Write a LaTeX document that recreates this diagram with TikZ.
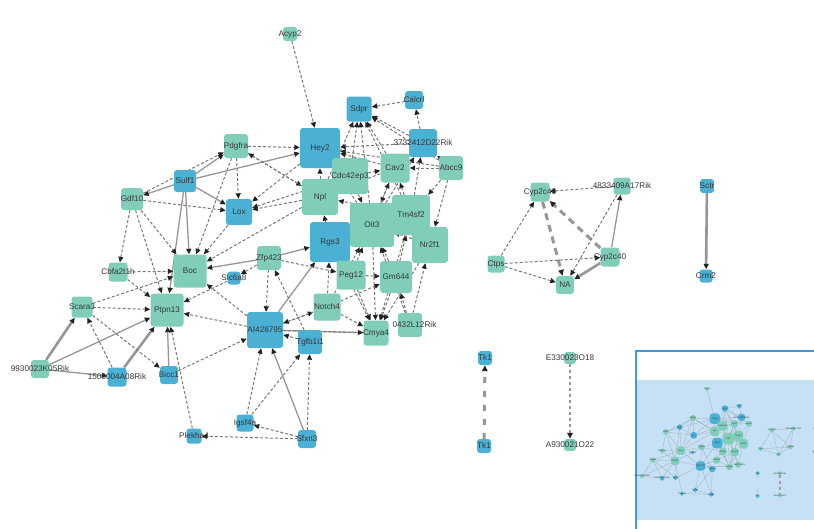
\documentclass[tikz,border=0pt]{standalone}
\usepackage{fontspec}
\setmainfont{Liberation Sans}
\usepackage{xcolor}
\definecolor{geneblue}{RGB}{74,176,212}
\definecolor{genegreen}{RGB}{128,206,186}
\definecolor{edgegray}{RGB}{120,120,120}
\definecolor{solidgray}{RGB}{150,150,150}
\definecolor{tipgray}{RGB}{35,35,35}
\definecolor{labelgray}{RGB}{55,55,55}
\definecolor{navframe}{RGB}{60,155,232}
\definecolor{navbg}{RGB}{198,225,245}
\usepackage{tikz}
\usetikzlibrary{arrows.meta,backgrounds}

\newcommand{\lbl}[1]{\makebox[0pt]{#1}}

% the whole network, drawn once in the view and once in the navigator
\newcommand{\genenet}{%
\node[ggreen, minimum size=14pt] (acyp2) at (290,34) {\lbl{Acyp2}};
\node[gblue, minimum size=40pt] (hey2) at (320,148) {\lbl{Hey2}};
\node[gblue, minimum size=25pt] (sdpr) at (359,109) {\lbl{Sdpr}};
\node[gblue, minimum size=18pt] (calcrl) at (414,100) {\lbl{Calcrl}};
\node[gblue, minimum size=28pt] (rik3732) at (423,143) {\lbl{3732412D22Rik}};
\node[ggreen, minimum size=36pt] (cdc) at (350,176) {\lbl{Cdc42ep3}};
\node[ggreen, minimum size=36pt] (npl) at (320,197) {\lbl{Npl}};
\node[ggreen, minimum size=29pt] (cav2) at (395,168) {\lbl{Cav2}};
\node[ggreen, minimum size=24pt] (abcc9) at (451,168) {\lbl{Abcc9}};
\node[ggreen, minimum size=44pt] (oit3) at (372,225) {\lbl{Oit3}};
\node[ggreen, minimum width=38pt, minimum height=40pt] (tm4sf2) at (411,215) {\lbl{Tm4sf2}};
\node[ggreen, minimum size=36pt] (nr2f1) at (430,245) {\lbl{Nr2f1}};
\node[gblue, minimum size=40pt] (rgs3) at (330,242) {\lbl{Rgs3}};
\node[ggreen, minimum size=29pt] (peg12) at (351,275) {\lbl{Peg12}};
\node[ggreen, minimum size=32pt] (gm644) at (396,277) {\lbl{Gm644}};
\node[ggreen, minimum size=27pt] (notch4) at (327,307) {\lbl{Notch4}};
\node[ggreen, minimum size=24pt] (rik9430) at (410,325) {\lbl{\hspace{9pt}0432L12Rik}};
\node[ggreen, minimum size=25pt] (cmya4) at (376,333) {\lbl{Cmya4}};
\node[ggreen, minimum size=24pt] (pdgfra) at (236,146) {\lbl{Pdgfra}};
\node[gblue, minimum size=22pt] (sulf1) at (185,181) {\lbl{Sulf1}};
\node[ggreen, minimum size=22pt] (gdf10) at (132,199) {\lbl{Gdf10}};
\node[gblue, minimum size=26pt] (lox) at (239,212) {\lbl{Lox}};
\node[ggreen, minimum size=33pt] (boc) at (190,271) {\lbl{Boc}};
\node[ggreen, minimum size=33pt] (ptpn13) at (167,310) {\lbl{Ptpn13}};
\node[ggreen, minimum size=19pt] (cbfa) at (118,272) {\lbl{Cbfa2t1h}};
\node[gblue, minimum size=13pt] (slc6a8) at (234,278) {\lbl{Slc6a8}};
\node[ggreen, minimum size=24pt] (zfp423) at (269,258) {\lbl{Zfp423}};
\node[ggreen, minimum size=21pt] (scara3) at (82,307) {\lbl{Scara3}};
\node[ggreen, minimum size=18pt] (k05) at (40,369) {\lbl{9930023K05Rik}};
\node[gblue, minimum size=19pt] (a08) at (117,377) {\lbl{1500004A08Rik}};
\node[gblue, minimum size=36pt] (ai) at (265,330) {\lbl{AI428795}};
\node[gblue, minimum size=24pt] (tgfb) at (310,342) {\lbl{Tgfb1i1}};
\node[gblue, minimum size=18pt] (bicc1) at (169,375) {\lbl{Bicc1}};
\node[gblue, minimum size=17pt] (igsf4a) at (245,423) {\lbl{Igsf4a}};
\node[gblue, minimum size=18pt] (sfxn3) at (307,439) {\lbl{Sfxn3}};
\node[gblue, minimum size=15pt] (plekha4) at (194,436) {\lbl{Plekha4}};
\node[ggreen, minimum size=19pt] (cyp2c40a) at (540,192) {\lbl{Cyp2c40}};
\node[ggreen, minimum size=17pt] (rik4833) at (622,186) {\lbl{4833409A17Rik}};
\node[ggreen, minimum size=17pt] (ctps) at (496,264) {\lbl{Ctps}};
\node[ggreen, minimum size=18pt] (na) at (565,285) {\lbl{NA}};
\node[ggreen, minimum size=19pt] (cyp2c40b) at (610,257) {\lbl{Cyp2c40}};
\node[gblue, minimum size=14pt] (sctr) at (707,186) {\lbl{Sctr}};
\node[gblue, minimum size=13pt] (crm2) at (706,276) {\lbl{Crm2}};
\node[gblue, minimum size=14pt] (tk1a) at (485,358) {\lbl{Tk1}};
\node[gblue, minimum size=14pt] (tk1b) at (484,446) {\lbl{Tk1}};
\node[ggreen, minimum size=12pt] (e330) at (570,358) {\lbl{E330023O18}};
\node[ggreen, minimum size=12pt] (a930) at (570,445) {\lbl{A930021O22}};
\begin{scope}[on background layer]
% solid links
\path[sol] (sulf1) edge (pdgfra) edge (gdf10) edge (hey2) edge (lox) edge (boc) edge (ptpn13);
\path[sol] (zfp423) edge (boc) edge (rgs3);
\path[sol] (ai) edge (rgs3);
\path[sol, -] (ai) edge (cmya4);
\path[sol] (sfxn3) edge (ai);
\path[sol] (bicc1) edge (ptpn13);
\path[sol] (k05) edge (ptpn13) edge (a08);
\path[thk] (k05) edge (scara3);
\path[thk] (a08) edge (ptpn13);
\path[thk] (cyp2c40b) edge (na);
\path[sol] (cyp2c40b) edge (rik4833);
\path[thk] (sctr) edge (crm2);
\path[tdep] (cyp2c40a) edge (na);
\path[tdep] (cyp2c40b) edge (cyp2c40a);
\path[tdep, dash pattern=on 6pt off 8pt] (tk1b) edge (tk1a);
\path[tdep, line width=2pt, dash pattern=on 3pt off 3pt] (e330) edge (a930);
% dashed links
\path[dep] (acyp2) edge (hey2);
\path[dep] (gdf10) edge (pdgfra) edge (lox) edge (cbfa) edge (boc) edge (ptpn13);
\path[dep] (pdgfra) edge (lox) edge (boc) edge (hey2) edge (npl);
\path[dep] (hey2) edge (lox);
\path[dep] (npl) edge (pdgfra) edge (lox) edge (boc) edge (hey2) edge (sdpr);
\path[dep] (cdc) edge (lox) edge (sdpr) edge (cav2) edge (oit3);
\path[dep] (lox) edge (boc);
\path[dep] (cbfa) edge (boc) edge (ptpn13);
\path[dep] (scara3) edge (ptpn13) edge (boc) edge (bicc1);
\path[dep] (a08) edge (scara3);
\path[dep] (bicc1) edge (ai);
\path[dep] (plekha4) edge (ptpn13);
\path[dep] (sfxn3) edge (plekha4) edge (igsf4a) edge (tgfb);
\path[dep] (igsf4a) edge (ai) edge (tgfb);
\path[dep] (ai) edge (ptpn13) edge (boc) edge (cmya4) edge (notch4);
\path[dep] (tgfb) edge (ai) edge (zfp423);
\path[dep] (zfp423) edge (ai) edge (peg12) edge (slc6a8);
\path[dep] (slc6a8) edge (ptpn13);
\path[dep] (notch4) edge (ai) edge (cmya4) edge (rgs3) edge (gm644) edge (oit3);
\path[dep] (rgs3) edge (npl) edge (cmya4);
\path[dep] (peg12) edge (oit3) edge (cmya4) edge (gm644);
\path[dep] (calcrl) edge (sdpr);
\path[dep] (rik3732) edge (calcrl) edge (hey2) edge (sdpr);
\path[dep] (cav2) edge (sdpr) edge (hey2) edge (rik3732) edge (npl) edge (oit3);
\path[dep] (abcc9) edge (sdpr) edge (hey2) edge (rik3732) edge (cav2) edge (nr2f1) edge (tm4sf2);
\path[dep] (oit3) edge (sdpr) edge (hey2) edge (cav2) edge (rik3732) edge (cmya4);
\path[dep] (tm4sf2) edge (sdpr) edge (rik3732) edge (cav2) edge (npl) edge (cmya4);
\path[dep] (gm644) edge (oit3) edge (tm4sf2) edge (cmya4);
\path[dep] (nr2f1) edge (oit3) edge (cmya4);
\path[dep] (rik9430) edge (nr2f1) edge (gm644) edge (oit3);
\path[dep] (rik4833) edge (cyp2c40a) edge (na);
\path[dep] (ctps) edge (cyp2c40a) edge (cyp2c40b) edge (na);
\end{scope}}

\begin{document}
\begin{tikzpicture}[
  x=1pt, y=-1pt,
  box/.style={rounded corners=3pt, inner sep=0pt, text=labelgray, font=\fontsize{8.2}{9}\selectfont},
  gblue/.style={box, fill=geneblue},
  ggreen/.style={box, fill=genegreen},
  dep/.style={draw=edgegray, line width=1pt, dash pattern=on 3pt off 2pt, -{Triangle[length=5.5pt, width=5pt, color=tipgray]}},
  sol/.style={draw=solidgray, line width=1.3pt, -{Triangle[length=5.5pt, width=5pt, color=tipgray]}},
  thk/.style={sol, line width=2.6pt},
  tdep/.style={draw=solidgray, line width=3pt, dash pattern=on 7pt off 5pt, -{Triangle[length=6pt, width=5.5pt, color=tipgray]}}
]
\useasboundingbox (0,0) rectangle (814,528);

\genenet

% navigator
\begin{scope}[on background layer]
\fill[navbg] (637,380) rectangle (816,520);
\end{scope}
\draw[navframe, line width=2pt] (636,532) -- (636,351) -- (818,351);
\begin{scope}[shift={(631.6,380.2)}, scale=0.26, transform shape, name prefix=m-,
  dep/.style={draw=edgegray!70, line width=0.2pt},
  sol/.style={dep}, thk/.style={dep}, tdep/.style={dep}]
\genenet
\end{scope}
\end{tikzpicture}
\end{document}
